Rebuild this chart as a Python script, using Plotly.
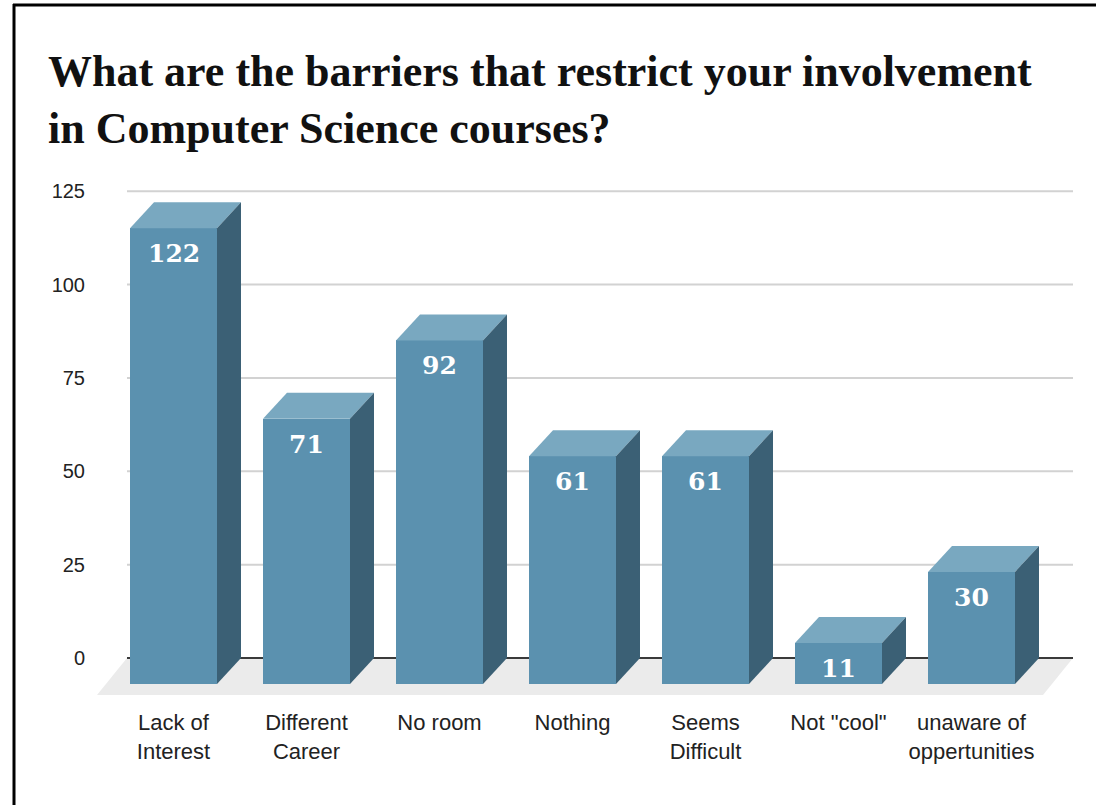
import plotly.graph_objects as go

# ---- data ----
categories = ["Lack of<br>Interest", "Different<br>Career", "No room", "Nothing",
              "Seems<br>Difficult", "Not \"cool\"", "unaware of<br>oppertunities"]
values = [122, 71, 92, 61, 61, 11, 30]
y_ticks = [0, 25, 50, 75, 100, 125]
title_text = "What are the barriers that restrict your involvement<br>in Computer Science courses?"

# ---- style / geometry (pixels) ----
W, H = 1096, 805
X0_PX, X_STEP_PX = 173.5, 133.0      # first bar centre, bar spacing
Y0_PX, Y_UNIT_PX = 658.0, 3.735      # zero line, px per unit
BAR_W_PX = 87.0
DX_PX, DY_PX = 24.0, 26.0            # 3-D depth offset
WALL_L_PX, WALL_R_PX = 127.0, 1073.0
FLOOR_DX_PX, FLOOR_DY_PX = 30.0, 37.0
DOM_L, DOM_R, DOM_T, DOM_B = 86.0, 1090.0, 160.0, 707.0

FRONT = "#5b91af"
TOP = "#79a8c0"
SIDE = "#3b6075"
FLOOR = "#ebebeb"
GRID = "#d2d2d2"


def xd(p):
    return (p - X0_PX) / X_STEP_PX


def yd(p):
    return (Y0_PX - p) / Y_UNIT_PX


bw = BAR_W_PX / X_STEP_PX
dxu = DX_PX / X_STEP_PX
dyu = DY_PX / Y_UNIT_PX

fig = go.Figure()

# background shapes: floor + back-wall gridlines
fx0, fx1 = xd(WALL_L_PX), xd(WALL_R_PX)
fdx, fdy = FLOOR_DX_PX / X_STEP_PX, FLOOR_DY_PX / Y_UNIT_PX
shapes = [dict(type="path", xref="x", yref="y", layer="below",
               path=f"M {fx0},0 L {fx1},0 L {fx1 - fdx},{-fdy} L {fx0 - fdx},{-fdy} Z",
               fillcolor=FLOOR, line=dict(width=0))]
for t in y_ticks:
    shapes.append(dict(type="line", xref="x", yref="y", layer="below",
                       x0=fx0, x1=fx1, y0=t, y1=t,
                       line=dict(color="#3a3a3a" if t == 0 else GRID, width=2)))
# frame
shapes.append(dict(type="line", xref="paper", yref="paper", x0=14 / W, x1=14 / W,
                   y0=-0.01, y1=1 - 4 / H, line=dict(color="black", width=3)))
shapes.append(dict(type="line", xref="paper", yref="paper", x0=13 / W, x1=1.01,
                   y0=1 - 5 / H, y1=1 - 5 / H, line=dict(color="black", width=3)))

xs = list(range(len(values)))

# front faces
fig.add_trace(go.Bar(
    x=xs, y=values, base=[-dyu] * len(values), width=bw,
    marker=dict(color=FRONT, line=dict(width=0)),
    hoverinfo="skip", showlegend=False))

# top and side faces
for i, v in zip(xs, values):
    l, r = i - bw / 2, i + bw / 2
    fig.add_trace(go.Scatter(
        x=[l, r, r + dxu, l + dxu, l], y=[v - dyu, v - dyu, v, v, v - dyu],
        fill="toself", fillcolor=TOP, mode="lines", line=dict(width=0),
        hoverinfo="skip", showlegend=False))
    fig.add_trace(go.Scatter(
        x=[r, r + dxu, r + dxu, r, r], y=[-dyu, 0, v, v - dyu, -dyu],
        fill="toself", fillcolor=SIDE, mode="lines", line=dict(width=0),
        hoverinfo="skip", showlegend=False))

# data labels
for i, v in zip(xs, values):
    fig.add_annotation(
        x=i, y=v - dyu, xref="x", yref="y", text=str(v), showarrow=False,
        yanchor="top", yshift=-9,
        font=dict(family="DejaVu Serif", size=25, color="white", weight="bold"))

# title
fig.add_annotation(
    x=46 / W, y=1 - 45 / H, xref="paper", yref="paper", xanchor="left", yanchor="top",
    align="left", text="<b>" + title_text + "</b>", showarrow=False,
    font=dict(family="Liberation Serif", size=44, color="#111111"))

fig.update_layout(
    width=W, height=H,
    margin=dict(l=0, r=0, t=0, b=0),
    paper_bgcolor="white", plot_bgcolor="white",
    xaxis=dict(domain=[DOM_L / W, DOM_R / W], range=[xd(DOM_L), xd(DOM_R)],
               tickvals=xs, ticktext=categories, showgrid=False, zeroline=False,
               showline=False, ticks="",
               tickfont=dict(family="Liberation Sans", size=22, color="#222222"),
               fixedrange=True),
    yaxis=dict(domain=[1 - DOM_B / H, 1 - DOM_T / H], range=[yd(DOM_B), yd(DOM_T)],
               tickvals=y_ticks, showgrid=False, zeroline=False, showline=False, ticks="",
               tickfont=dict(family="Liberation Sans", size=20, color="#222222"),
               fixedrange=True),
    shapes=shapes,
    bargap=0,
)

fig.write_html("out.html", config={"displayModeBar": False},
               post_script="document.body.style.margin='0px';")
